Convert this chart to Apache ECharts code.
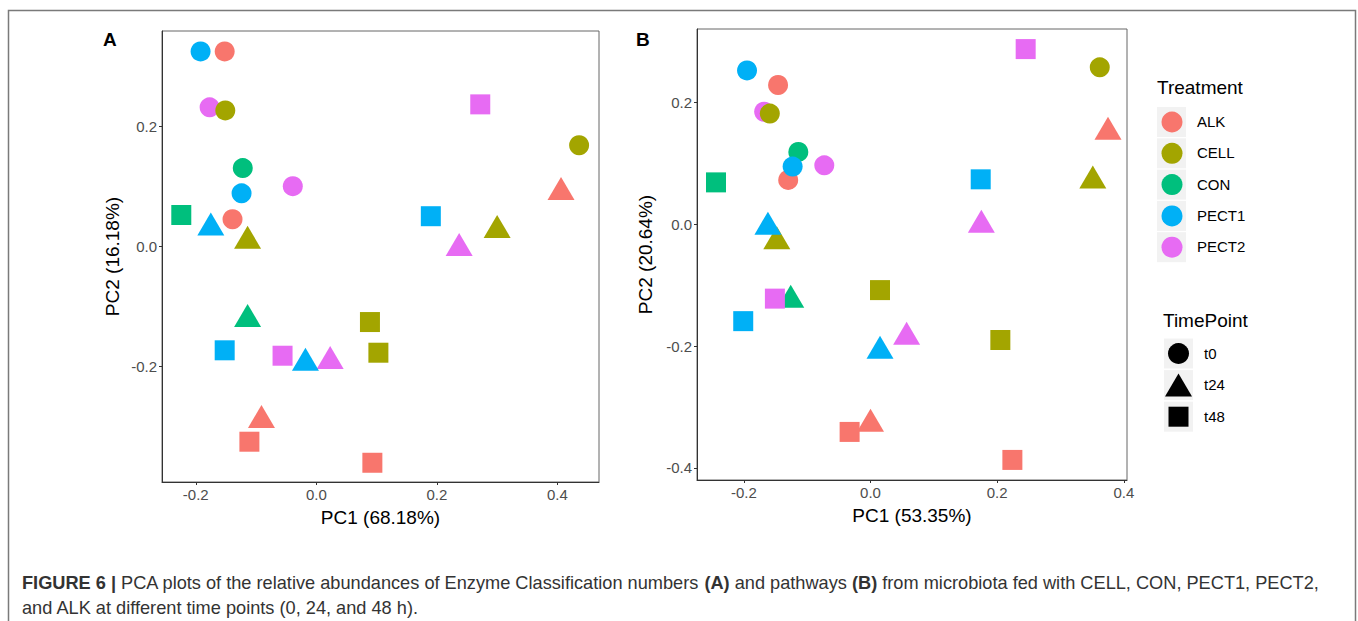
<!DOCTYPE html>
<html lang="en">
<head>
    <meta charset="UTF-8">
    <title>PCA plots</title>
    <script src="https://cdn.jsdelivr.net/npm/echarts@6/dist/echarts.min.js"></script>
    <style>
        html, body { margin: 0; padding: 0; background: #fff; }
        #chart { width: 1358px; height: 621px; }
    </style>
</head>
<body>
    <div id="chart"></div>
    <script>
        // groups and time points
        const treatments = ['ALK', 'CELL', 'CON', 'PECT1', 'PECT2'];
        const timePoints = ['t0', 't24', 't48'];

        // panel A: [treatment, time point, PC1, PC2]
        const pointsA = [
            ['ALK', 't0', -0.152, 0.324], ['ALK', 't0', -0.139, 0.045],
            ['ALK', 't24', 0.406, 0.096], ['ALK', 't24', -0.091, -0.283],
            ['ALK', 't48', -0.111, -0.325], ['ALK', 't48', 0.093, -0.360],
            ['CELL', 't0', -0.151, 0.226], ['CELL', 't0', 0.436, 0.168],
            ['CELL', 't24', -0.114, 0.015], ['CELL', 't24', 0.300, 0.033],
            ['CELL', 't48', 0.089, -0.126], ['CELL', 't48', 0.103, -0.177],
            ['CON', 't0', -0.122, 0.130], ['CON', 't24', -0.114, -0.115], ['CON', 't48', -0.224, 0.052],
            ['PECT1', 't0', -0.192, 0.324], ['PECT1', 't0', -0.124, 0.088],
            ['PECT1', 't24', -0.175, 0.037], ['PECT1', 't24', -0.018, -0.188],
            ['PECT1', 't48', 0.190, 0.050], ['PECT1', 't48', -0.152, -0.173],
            ['PECT2', 't0', -0.177, 0.231], ['PECT2', 't0', -0.039, 0.100],
            ['PECT2', 't24', 0.237, 0.003], ['PECT2', 't24', 0.023, -0.185],
            ['PECT2', 't48', 0.272, 0.236], ['PECT2', 't48', -0.056, -0.182]
        ];

        // panel B
        const pointsB = [
            ['ALK', 't0', -0.146, 0.229], ['ALK', 't0', -0.130, 0.073],
            ['ALK', 't24', 0.375, 0.158], ['ALK', 't24', 0.000, -0.322],
            ['ALK', 't48', -0.033, -0.341], ['ALK', 't48', 0.224, -0.387],
            ['CELL', 't0', -0.159, 0.182], ['CELL', 't0', 0.362, 0.258],
            ['CELL', 't24', -0.148, -0.022], ['CELL', 't24', 0.351, 0.078],
            ['CELL', 't48', 0.015, -0.108], ['CELL', 't48', 0.205, -0.190],
            ['CON', 't0', -0.114, 0.119], ['CON', 't24', -0.126, -0.118], ['CON', 't48', -0.244, 0.069],
            ['PECT1', 't0', -0.195, 0.253], ['PECT1', 't0', -0.123, 0.095],
            ['PECT1', 't24', -0.162, 0.002], ['PECT1', 't24', 0.015, -0.202],
            ['PECT1', 't48', 0.174, 0.074], ['PECT1', 't48', -0.201, -0.159],
            ['PECT2', 't0', -0.168, 0.185], ['PECT2', 't0', -0.073, 0.097],
            ['PECT2', 't24', 0.175, 0.005], ['PECT2', 't24', 0.057, -0.179],
            ['PECT2', 't48', 0.245, 0.288], ['PECT2', 't48', -0.151, -0.122]
        ];

        const ticksX = [-0.2, 0, 0.2, 0.4];
        const ticksYA = [-0.2, 0, 0.2];
        const ticksYB = [-0.4, -0.2, 0, 0.2];
        const axisTitles = {
            ax: 'PC1 (68.18%)', ay: 'PC2 (16.18%)',
            bx: 'PC1 (53.35%)', by: 'PC2 (20.64%)'
        };

        // ggplot default hues
        const colors = {
            ALK: '#F8766D', CELL: '#A3A500', CON: '#00BF7D', PECT1: '#00B0F6', PECT2: '#E76BF3'
        };
        const shapes = {
            t0: { symbol: 'circle', size: 20 },
            t24: { symbol: 'triangle', size: [27, 23] },
            t48: { symbol: 'rect', size: 20 }
        };
        // draw order (later on top)
        const drawOrder = ['ALK', 'CON', 'PECT2', 'CELL', 'PECT1'];

        const FONT = '"Liberation Sans", Arial, Helvetica, sans-serif';
        const fmt = v => v.toFixed(1);

        function makeAxis(gridIndex, min, max, ticks, name, gap) {
            return {
                type: 'value',
                gridIndex: gridIndex,
                min: min,
                max: max,
                name: name,
                nameLocation: 'middle',
                nameGap: gap,
                nameTextStyle: { fontFamily: FONT, fontSize: 19, color: '#000' },
                axisLine: { show: true, onZero: false, lineStyle: { color: '#333', width: 1 } },
                axisTick: { show: true, length: 3, customValues: ticks, lineStyle: { color: '#333' } },
                axisLabel: {
                    customValues: ticks,
                    formatter: fmt,
                    fontFamily: FONT,
                    fontSize: 15,
                    color: '#4D4D4D',
                    margin: 5
                },
                splitLine: { show: false }
            };
        }

        function buildSeries(points, idx) {
            return drawOrder.map(t => ({
                type: 'scatter',
                name: t,
                xAxisIndex: idx,
                yAxisIndex: idx,
                itemStyle: { color: colors[t], opacity: 1 },
                data: points.filter(p => p[0] === t).map(p => ({
                    value: [p[2], p[3]],
                    symbol: shapes[p[1]].symbol,
                    symbolSize: shapes[p[1]].size
                }))
            }));
        }

        // legends drawn by hand (ggplot style keys)
        const legendGraphics = [];
        legendGraphics.push({
            type: 'text', left: 1157, top: 78,
            style: { text: 'Treatment', font: '19px ' + FONT, fill: '#000' }
        });
        treatments.forEach((t, i) => {
            const cy = 122 + i * 31.3;
            legendGraphics.push({
                type: 'rect', shape: { x: 1157, y: cy - 15, width: 29, height: 30 },
                style: { fill: '#F2F2F2' }
            });
            legendGraphics.push({
                type: 'circle', shape: { cx: 1172, cy: cy, r: 10.5 },
                style: { fill: colors[t] }
            });
            legendGraphics.push({
                type: 'text', left: 1197, top: cy - 8,
                style: { text: t, font: '15px ' + FONT, fill: '#000' }
            });
        });
        legendGraphics.push({
            type: 'text', left: 1163, top: 311,
            style: { text: 'TimePoint', font: '19px ' + FONT, fill: '#000' }
        });
        timePoints.forEach((tp, i) => {
            const cy = 353.5 + i * 31.6;
            legendGraphics.push({
                type: 'rect', shape: { x: 1164, y: cy - 15, width: 29, height: 30 },
                style: { fill: '#F2F2F2' }
            });
            let shape;
            if (tp === 't0') {
                shape = { type: 'circle', shape: { cx: 1178.5, cy: cy, r: 10.5 } };
            } else if (tp === 't24') {
                shape = { type: 'polygon', shape: { points: [[1178.5, cy - 11.5], [1192, cy + 11.5], [1165, cy + 11.5]] } };
            } else {
                shape = { type: 'rect', shape: { x: 1168.5, y: cy - 10, width: 20, height: 20 } };
            }
            shape.style = { fill: '#000' };
            legendGraphics.push(shape);
            legendGraphics.push({
                type: 'text', left: 1204, top: cy - 8,
                style: { text: tp, font: '15px ' + FONT, fill: '#000' }
            });
        });

        const chart = echarts.init(document.getElementById('chart'), null, { renderer: 'svg' });

        const option = {
            animation: false,
            backgroundColor: '#fff',
            grid: [
                { left: 162, top: 31, width: 437, height: 451, show: true, borderColor: '#666', borderWidth: 1 },
                { left: 697, top: 29, width: 430, height: 451, show: true, borderColor: '#666', borderWidth: 1 }
            ],
            xAxis: [
                makeAxis(0, -0.256, 0.469, ticksX, axisTitles.ax, 26),
                makeAxis(1, -0.274, 0.405, ticksX, axisTitles.bx, 26)
            ],
            yAxis: [
                makeAxis(0, -0.392, 0.358, ticksYA, axisTitles.ay, 40),
                makeAxis(1, -0.420, 0.321, ticksYB, axisTitles.by, 42)
            ],
            series: buildSeries(pointsA, 0).concat(buildSeries(pointsB, 1)),
            graphic: [
                // figure frame (open at the bottom)
                {
                    type: 'polyline',
                    shape: { points: [[8.5, 621], [8.5, 10.5], [1355.5, 10.5], [1355.5, 621]] },
                    style: { stroke: '#7a7a7a', lineWidth: 1.5, fill: null }
                },
                { type: 'text', left: 103, top: 30, style: { text: 'A', font: 'bold 19px ' + FONT, fill: '#000' } },
                { type: 'text', left: 636, top: 30, style: { text: 'B', font: 'bold 19px ' + FONT, fill: '#000' } },
                {
                    type: 'text', left: 22, top: 570,
                    style: {
                        text: '{b|FIGURE 6 |} PCA plots of the relative abundances of Enzyme Classification numbers {b|(A)} and pathways {b|(B)} from microbiota fed with CELL, CON, PECT1, PECT2,\nand ALK at different time points (0, 24, and 48 h).',
                        font: '18.2px ' + FONT,
                        fill: '#333',
                        lineHeight: 25,
                        rich: {
                            b: { fontWeight: 'bold', fontSize: 18.2, fontFamily: FONT, fill: '#333', lineHeight: 25 }
                        }
                    }
                }
            ].concat(legendGraphics)
        };

        chart.setOption(option);
    </script>
</body>
</html>
